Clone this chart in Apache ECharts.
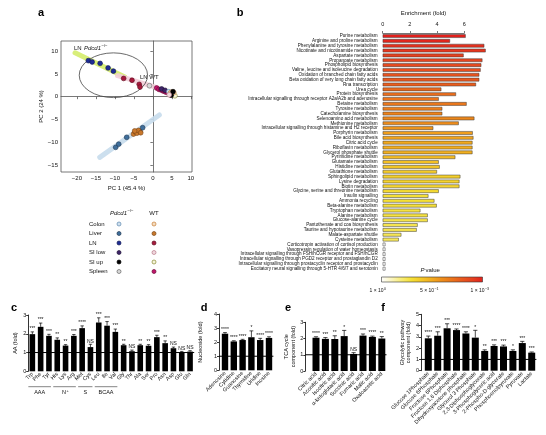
<!DOCTYPE html>
<html><head><meta charset="utf-8">
<script src="https://cdn.jsdelivr.net/npm/echarts@6/dist/echarts.min.js"></script>
<style>html,body{margin:0;padding:0;background:#fff}#c{width:546px;height:435px}</style>
</head><body><div id="c"></div>
<script>
const FONT = 'Liberation Sans, Arial, Helvetica, sans-serif';

// ---------- panel a : PCA ----------
const pcaKoLN     = [[-17.0,7.9],[-16.0,7.6],[-13.9,7.3],[-11.8,6.3],[-10.4,5.6]];
const pcaWtLN     = [[-7.7,4.0],[-5.5,3.6],[-3.6,2.7],[-3.4,2.1]];
const pcaKoSpleen = [[-0.9,2.4]];
const pcaWtSpleen = [[1.0,1.9],[1.6,1.6],[2.1,1.5],[2.6,1.3],[3.0,1.2],[3.4,1.0],[3.9,0.9]];
const pcaKoSIlow  = [[2.3,1.7],[3.2,1.4]];
const pcaKoColon  = [[4.2,1.1]];
const pcaWtSIup   = [[4.6,0.8],[5.2,0.5],[5.8,0.2]];
const pcaWtColon  = [[4.9,1.0],[5.5,0.9]];
const pcaKoSIup   = [[4.8,0.3],[5.3,1.1]];
const pcaWtSIlow  = [[4.3,0.4]];
const pcaKoLiver  = [[-9.8,-11.1],[-9.0,-10.4],[-6.9,-8.9],[-3.4,-7.6],[-2.7,-6.8]];
const pcaWtLiver  = [[-5.1,-8.2],[-4.6,-7.7],[-4.2,-8.0],[-3.8,-7.4],[-3.2,-7.9],[-4.8,-7.5]];
const bandGreen = [[-20.5,9.6],[-7.4,4.3]];
const bandPink  = [[-9.3,4.6],[1.0,2.0]];
const bandBlue  = [[-14.0,-13.3],[1.7,-4.0]];
const ellipseLN = [[-10.4,4.7,9.0,4.9]];
const pcaXTicks = [-20,-15,-10,-5,0,5,10];
const pcaYTicks = [-15,-10,-5,0,5,10];
const legendRows = ['Colon','Liver','LN','SI low','SI up','Spleen'];

// ---------- panel b : enrichment ----------
const pathways = [
'Purine metabolism','Arginine and proline metabolism','Phenylalanine and tyrosine metabolism',
'Nicotinate and nicotinamide metabolism','Aspartate metabolism','Propanoate metabolism',
'Phospholipid biosynthesis','Valine, leucine and isoleucine degradation','Oxidation of branched chain fatty acids',
'Beta oxidation of very long chain fatty acids','Rna transcription','Urea cycle','Protein biosynthesis',
'Intracellular signalling through receptor A2a/A2b and adenosine','Betaine metabolism','Tyrosine metabolism',
'Catecholamine biosynthesis','Selenoamino acid metabolism','Methionine metabolism',
'Intracellular signalling through histamine and H2 receptor','Porphyrin metabolism','Bile acid biosynthesis',
'Citric acid cycle','Riboflavin metabolism','Glycerol phosphate shuttle','Pyrimidine metabolism',
'Glutamate metabolism','Histidine metabolism','Glutathione metabolism','Sphingolipid metabolism',
'Lysine degradation','Biotin metabolism','Glycine, serine and threonine metabolism','Insulin signalling',
'Ammonia recycling','Beta-alanine metabolism','Tryptophan metabolism','Alanine metabolism',
'Glucose-alanine cycle','Pantothenate and coa biosynthesis','Taurine and hypotaurine metabolism',
'Malate-aspartate shuttle','Cysteine metabolism','Corticotropin activation of cortisol production',
'Vasopressin regulation of water homeostasis','Intracellular signalling through FSH/hCGR receptor and FSH/hCGR',
'Intracellular signalling through PGD2 receptor and prostaglandin D2',
'Intracellular signalling through prostacyclin receptor and prostacyclin',
'Excitatory neural signalling through 5-HTR 4/6/7 and serotonin'];
const enrichment = [6.1,4.95,7.47,7.57,5.95,7.33,7.25,7.2,7.1,7.1,6.86,4.31,5.39,4.12,6.17,4.38,4.38,6.74,5.59,3.72,
6.62,6.67,6.6,6.6,6.6,5.34,4.12,4.19,3.99,5.71,5.64,5.64,4.12,3.36,3.8,3.97,2.77,3.31,3.31,2.57,2.5,1.37,1.18,
0.2,0.2,0.2,0.2,0.2,0.2];
// position of each bar's P value on the colour bar (0 = 1x10^0, 1 = 1x10^-3)
const pValuePos = [1.0,0.98,0.95,0.93,0.9,0.88,0.86,0.84,0.82,0.8,0.78,0.74,0.72,0.7,0.68,0.66,0.64,0.62,0.6,0.57,
0.54,0.52,0.5,0.49,0.48,0.44,0.42,0.4,0.38,0.36,0.35,0.34,0.32,0.3,0.3,0.29,0.28,0.28,0.27,0.26,0.26,0.25,0.24,
0,0,0,0,0,0];
const pScaleColors = ['#ffffff','#fbf5bf','#f8ec74','#f5df35','#f4c626','#f2aa1e','#ee8c1a','#eb731b','#e8571e','#e5401f','#e2201c'];
const pScaleLabels = [['1','0'],['5','\u22121'],['1','\u22123']];

// ---------- panel c : amino acids ----------
const aaNames = ['Trp','Phe','Tyr','His','Lys','Arg','Met','Cys','Leu','Ile','Val','Gly','Thr','Ala','Ser','Pro','Asn','Asp','Glu','Gln'];
const aaFold  = [1.98,2.37,1.89,1.68,1.37,1.89,2.3,1.29,2.6,2.43,2.1,1.39,1.07,1.39,1.36,1.82,1.5,1.23,1.02,1.05];
const aaErr   = [0.12,0.2,0.08,0.1,0.05,0.07,0.12,0.15,0.25,0.22,0.15,0.05,0.06,0.05,0.06,0.1,0.12,0.06,0.04,0.05];
const aaSig   = ['***','***','***','**','**','***','****','NS','***','***','***','**','NS','**','**','***','**','NS','NS','NS'];
const aaGroups = [['AAA','',0,2],['N','+',3,5],['S','',6,7],['BCAA','',8,10]];

// ---------- panel d : nucleosides ----------
const nucNames = ['Adenosine','Cytidine','Guanosine','Thymidine','Uridine','Inosine'];
const nucFold  = [2.6,2.05,2.15,2.35,2.15,2.3];
const nucErr   = [0.08,0.05,0.05,0.45,0.12,0.08];
const nucSig   = ['****','****','****','*','****','****'];

// ---------- panel e : TCA ----------
const tcaNames = ['Citric acid','Aconitic acid','Isocitric acid','\u03b1-ketoglutaric acid','Succinic acid','Fumaric acid','Malic acid','Oxaloacetic acid'];
const tcaFold  = [2.05,1.98,1.97,2.15,1.05,2.18,2.1,2.0];
const tcaErr   = [0.06,0.08,0.2,0.35,0.08,0.1,0.05,0.12];
const tcaSig   = ['****','***','**','*','NS','***','****','**'];

// ---------- panel f : glycolysis ----------
const glyNames = ['Glucose 1Phosphate','Glucose 6Phosphate','Fructose 6Phosphate','Fructose 1,6 Diphosphate',
'Dihydroxyacetone phosphate','Glycerol 3 Phosphate','2,3-Diphosphoglycerate','3-Phosphoglyceric acid',
'2-Phospho-D-glycerate','Phosphoenolpyruvate','Pyruvate','Lactate'];
const glyFold  = [2.87,3.1,3.76,3.6,3.3,2.93,1.75,2.19,2.15,1.75,2.45,1.6];
const glyErr   = [0.2,0.35,0.4,0.1,0.15,0.65,0.1,0.1,0.12,0.1,0.15,0.06];
const glySig   = ['****','***','***','****','****','*','**','***','***','*','***','***'];

// ================= build =================
const chart = echarts.init(document.getElementById('c'), null, {renderer:'canvas', width:546, height:435});
const txt = {fontFamily: FONT, color:'#111'};

const koStyle = [['#cfe0ee','#5d88b0'],['#3f6f9c','#1d3550'],['#1e2c94','#111a55'],['#3d2468','#1e1236'],['#000','#000'],['#d8d8d8','#666']];
const wtStyle = [['#f3dcc0','#c87c34'],['#c9782c','#7a4515'],['#a8193c','#5d0d20'],['#f0d8de','#b87888'],['#f4f4d8','#8a8a30'],['#c2166a','#6a0c3a']];

function scatter(data, st) {
  return {type:'scatter', xAxisIndex:0, yAxisIndex:0, data, symbolSize:4.8, z:5,
    itemStyle:{color:st[0], borderColor:st[1], borderWidth:0.6, opacity:1}};
}
function band(data, color) {
  return {type:'line', xAxisIndex:0, yAxisIndex:0, data, symbol:'none', z:2, silent:true,
    lineStyle:{color, width:5, cap:'round', opacity:0.9}};
}

function barPanel(idx, names, fold, err, sig, barW, off) {
  return [
    {type:'bar', xAxisIndex:idx, yAxisIndex:idx, data:fold, barWidth:barW, itemStyle:{color:'#000'}, z:2},
    {type:'custom', xAxisIndex:idx, yAxisIndex:idx, z:3,
      data: fold.map((v,i)=>[i, v, err[i]]),
      renderItem:(params, api)=>{
        const i = api.value(0), v = api.value(1), e = api.value(2);
        const b = api.coord([i, v]), t = api.coord([i, v+e]);
        const cap = barW*0.3;
        return {type:'group', children:[
          {type:'line', shape:{x1:b[0],y1:b[1],x2:t[0],y2:t[1]}, style:{stroke:'#000',lineWidth:0.7}},
          {type:'line', shape:{x1:t[0]-cap,y1:t[1],x2:t[0]+cap,y2:t[1]}, style:{stroke:'#000',lineWidth:0.7}},
          {type:'text', x:t[0], y:t[1]-0.5, style:{text:sig[params.dataIndex], fontSize:5, fontFamily:FONT,
            align:'center', verticalAlign:'bottom', fill:'#111'}}
        ]};
      }},
    {type:'custom', xAxisIndex:idx, yAxisIndex:idx, z:4, data:[[0,1]],
      renderItem:(params, api)=>{
        const cs = params.coordSys; const y = api.coord([0,1])[1];
        return {type:'line', shape:{x1:cs.x - off, y1:y, x2:cs.x+cs.width, y2:y}, style:{stroke:'#000', lineWidth:1}};
      }}
  ];
}
function catAxis(idx, names) {
  return {gridIndex:idx, type:'category', data:names, axisLine:{show:false}, axisTick:{show:false},
    axisLabel:{interval:0, rotate:45, fontSize:5.5, margin:2, ...txt}};
}
function valAxis(idx, max, off, name, gap) {
  return {gridIndex:idx, type:'value', min:0, max, interval:1, offset:off,
    axisLine:{show:true, lineStyle:{color:'#000', width:0.8}},
    axisTick:{show:true, length:2, lineStyle:{color:'#000', width:0.8}},
    axisLabel:{fontSize:5.5, margin:2, ...txt}, splitLine:{show:false},
    name, nameLocation:'middle', nameGap:gap, nameTextStyle:{fontSize:5.5, lineHeight:6.5, ...txt}};
}

const series = [
  band(bandGreen,'#d4ec6c'), band(bandPink,'#f3cdd8'), band(bandBlue,'#c6dcec'),
  {type:'custom', xAxisIndex:0, yAxisIndex:0, z:3, data:ellipseLN, silent:true,
    renderItem:(params, api)=>{
      const c = api.coord([api.value(0), api.value(1)]);
      const s = api.size([api.value(2), api.value(3)]);
      const rx = s[0], ry = s[1];
      const d = 'M' + (c[0]-rx) + ' ' + c[1] + ' A' + rx + ' ' + ry + ' 0 1 0 ' + (c[0]+rx) + ' ' + c[1] +
                ' A' + rx + ' ' + ry + ' 0 1 0 ' + (c[0]-rx) + ' ' + c[1] + ' Z';
      return {type:'path', shape:{pathData:d, x:c[0]-rx, y:c[1]-ry, width:2*rx, height:2*ry},
        style:{fill:'none', stroke:'#444', lineWidth:0.8}};
    }},
  scatter(pcaKoLN, koStyle[2]), scatter(pcaWtLN, wtStyle[2]), scatter(pcaKoSpleen, koStyle[5]),
  scatter(pcaWtSpleen, wtStyle[5]), scatter(pcaKoSIlow, koStyle[3]), scatter(pcaKoColon, koStyle[0]),
  scatter(pcaWtSIup, wtStyle[4]), scatter(pcaWtColon, wtStyle[0]), scatter(pcaKoSIup, koStyle[4]),
  scatter(pcaWtSIlow, wtStyle[3]), scatter(pcaKoLiver, koStyle[1]), scatter(pcaWtLiver, wtStyle[1]),
];
const bBarIndex = series.length;
series.push({type:'bar', xAxisIndex:1, yAxisIndex:1, barWidth:3.6,
  data: enrichment.map((v,i)=>[v, pathways[i], pValuePos[i]]), encode:{x:0, y:1},
  itemStyle:{borderColor:'#3a3a3a', borderWidth:0.5}});
series.push(...barPanel(3, aaNames, aaFold, aaErr, aaSig, 5.6, 0));
series.push(...barPanel(4, nucNames, nucFold, nucErr, nucSig, 6.4, 1.6));
series.push(...barPanel(5, tcaNames, tcaFold, tcaErr, tcaSig, 7, 6));
series.push(...barPanel(6, glyNames, glyFold, glyErr, glySig, 7, 2.6));

const option = {
  animation:false,
  backgroundColor:'#fff',
  textStyle:{fontFamily:FONT},
  grid:[
    {left:61, top:41, width:131, height:131, show:true, borderColor:'#555', borderWidth:0.8, outerBoundsMode:'none'},
    {left:382.7, top:33.6, width:108.8, height:237.5, outerBoundsMode:'none'},
    {left:382.7, top:32, width:81.6, height:1, outerBoundsMode:'none'},
    {left:28.2, top:315, width:166, height:56.3, outerBoundsMode:'none'},
    {left:220.6, top:314, width:52.8, height:56.3, outerBoundsMode:'none'},
    {left:311.3, top:322.3, width:75.2, height:48.7, outerBoundsMode:'none'},
    {left:423.6, top:314.3, width:112.8, height:56.4, outerBoundsMode:'none'}
  ],
  xAxis:[
    {gridIndex:0, type:'value', min:-24.2, max:10.3, axisLine:{show:true, lineStyle:{color:'#555', width:0.8}},
      axisTick:{show:true, length:2.5, customValues:pcaXTicks, lineStyle:{color:'#555', width:0.8}},
      axisLabel:{customValues:pcaXTicks, fontSize:6, margin:3, ...txt, formatter:v=>String(v).replace('-','\u2212')}, splitLine:{show:false},
      name:'PC 1 (45.4 %)', nameLocation:'middle', nameGap:13, nameTextStyle:{fontSize:6, ...txt}},
    {gridIndex:1, type:'value', min:0, max:8, show:false},
    {gridIndex:2, type:'value', min:0, max:6, interval:2, position:'top',
      axisLine:{show:true, lineStyle:{color:'#555', width:0.8}},
      axisTick:{show:true, length:2, lineStyle:{color:'#555', width:0.8}},
      axisLabel:{fontSize:5.5, margin:5, ...txt}, splitLine:{show:false},
      name:'Enrichment (fold)', nameLocation:'middle', nameGap:16, nameTextStyle:{fontSize:6, ...txt}},
    catAxis(3, aaNames), catAxis(4, nucNames), catAxis(5, tcaNames), catAxis(6, glyNames)
  ],
  yAxis:[
    {gridIndex:0, type:'value', min:-16.5, max:12.2, axisLine:{show:true, lineStyle:{color:'#555', width:0.8}},
      axisTick:{show:true, length:2.5, customValues:pcaYTicks, lineStyle:{color:'#555', width:0.8}},
      axisLabel:{customValues:pcaYTicks, fontSize:6, margin:3, ...txt, formatter:v=>String(v).replace('-','\u2212')}, splitLine:{show:false},
      name:'PC 2 (24 %)', nameLocation:'middle', nameGap:17, nameTextStyle:{fontSize:6, ...txt}},
    {gridIndex:1, type:'category', inverse:true, data:pathways, axisLine:{show:false}, axisTick:{show:false},
      axisLabel:{interval:0, fontSize:4.6, margin:5, ...txt}},
    {gridIndex:2, type:'value', show:false},
    valAxis(3, 3, 0, 'AA (fold)', 9),
    valAxis(4, 4, 1.6, 'Nucleoside (fold)', 15),
    valAxis(5, 3, 6, 'TCA cycle\ncomponent (fold)', 5),
    valAxis(6, 5, 2.6, 'Glycolytic pathway\ncomponent (fold)', 7)
  ],
  visualMap:[{type:'continuous', show:false, seriesIndex:bBarIndex, dimension:2, min:0, max:1,
    inRange:{color:pScaleColors}}],
  series
};
chart.setOption(option);

// ---------- graphic annotations ----------
const g = [];
function T(x, y, text, size, extra) {
  return {type:'text', x, y, style:Object.assign({text, fontSize:size, fontFamily:FONT, fill:'#111', verticalAlign:'middle'}, extra||{})};
}
// base text + superscript as two separate text elements (base right-aligned at xr)
function supPair(xr, y, base, exp, size, italic) {
  return [
    T(xr, y, base, size, {align:'right', fontStyle: italic ? 'italic' : 'normal'}),
    T(xr + 0.4, y - size*0.38, exp, size*0.72, {align:'left'})
  ];
}
const panelLetters = [['a',41,13],['b',240,13],['c',14,308],['d',204,308],['e',288,308],['f',383,308]];
panelLetters.forEach(([t,x,y])=>g.push(T(x, y, t, 11, {fontWeight:'bold', align:'center', fill:'#000'})));

// PCA annotations
g.push(T(74, 48, 'LN', 6, {align:'left'}));
g.push(...supPair(101, 48, 'Pdcd1', '\u2212/\u2212', 6, true));
g.push(T(140, 77, 'LN WT', 6, {align:'left'}));

// PCA legend
g.push(...supPair(127, 213, 'Pdcd1', '\u2212/\u2212', 6, true));
g.push(T(154, 213, 'WT', 6, {align:'center'}));
legendRows.forEach((r,i)=>{
  const y = 224 + i*9.5;
  g.push(T(89, y, r, 6, {align:'left'}));
  g.push({type:'circle', shape:{cx:119, cy:y, r:2}, style:{fill:koStyle[i][0], stroke:koStyle[i][1], lineWidth:0.7}});
  g.push({type:'circle', shape:{cx:154, cy:y, r:2}, style:{fill:wtStyle[i][0], stroke:wtStyle[i][1], lineWidth:0.7}});
});

// colour bar
g.push(T(424.5, 270.5, 'P', 6, {align:'right', fontStyle:'italic'}));
g.push(T(425.5, 270.5, 'value', 6, {align:'left'}));
g.push({type:'rect', shape:{x:381.5, y:277, width:101, height:5},
  style:{fill:new echarts.graphic.LinearGradient(0,0,1,0, pScaleColors.map((c,i)=>({offset:i/(pScaleColors.length-1), color:c}))),
  stroke:'#333', lineWidth:0.6}});
const cbX = [381.5, 432, 482.5];
pScaleLabels.forEach(([m,e],i)=>g.push(...supPair(cbX[i] + 2, 291, m + ' \u00d7 10', e, 5)));

// amino acid group brackets
aaGroups.forEach(([lab,sp,a,b])=>{
  const pa = chart.convertToPixel({xAxisIndex:3, yAxisIndex:3}, [a, 0]);
  const pb = chart.convertToPixel({xAxisIndex:3, yAxisIndex:3}, [b, 0]);
  const x1 = pa[0]-4, x2 = pb[0]+2;
  g.push({type:'line', shape:{x1, y1:386.7, x2, y2:386.7}, style:{stroke:'#666', lineWidth:0.8}});
  if (sp) g.push(...supPair((x1+x2)/2 + 1.5, 392.5, lab, sp, 5.5));
  else g.push(T((x1+x2)/2, 392.5, lab, 5.5, {align:'center'}));
});
chart.setOption({graphic:g});
</script></body></html>
